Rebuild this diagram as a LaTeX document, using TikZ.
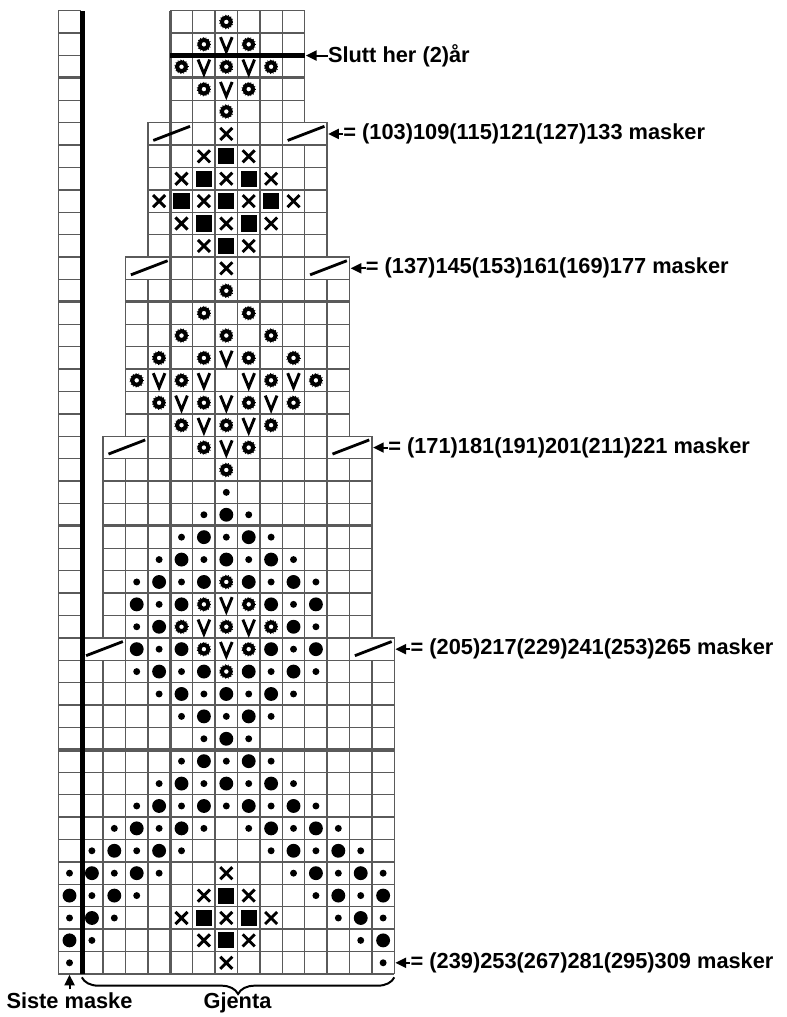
\documentclass[tikz,border=0pt]{standalone}
\usepackage{fontspec}
\setmainfont{Liberation Sans}
\usetikzlibrary{arrows.meta,positioning,decorations.pathreplacing}
\definecolor{rutegraa}{RGB}{90,90,90}

\begin{document}
\begin{tikzpicture}[x=0.672cm, y=0.672cm,
  every node/.style={font=\fontsize{18.6}{21}\selectfont\bfseries, inner sep=0pt},
  rute/.style={rutegraa, line width=1.2pt, step=1},
  tiende/.style={rutegraa, line width=2.6pt},
  pil/.style={line width=1.7pt, -{Triangle[length=0.32cm,width=0.3cm]}},
  smalldot/.pic={\fill (0,0) circle (0.155);},
  bigdot/.pic={\fill (0,0) circle (0.31);},
  ring/.pic={\draw[line width=3.4pt] (0,0) circle (0.2);
    \foreach \a in {0,24,...,336} \draw[line width=0.6pt] (\a:0.27) -- (\a:0.32);},
  vee/.pic={\draw[line width=2.5pt, line join=miter] (-0.26,0.32) -- (0,-0.32) -- (0.26,0.32);},
  cross/.pic={\draw[line width=2.5pt] (-0.27,-0.27) -- (0.27,0.27) (-0.27,0.27) -- (0.27,-0.27);},
  blk/.pic={\fill (-0.36,-0.36) rectangle (0.36,0.36);}]
\useasboundingbox (-2.603,-1.92) rectangle (32.49,43.48);
\fill[white] (-2.603,-1.92) rectangle (32.49,43.48);

% ruter
\draw[rute] (0,0) grid (1,43);
\foreach \lo/\hi/\ra/\rb in {1/14/0/14, 2/13/15/23, 3/12/24/31, 4/11/32/37}{
  \pgfmathtruncatemacro\hx{\hi+1}
  \pgfmathtruncatemacro\rc{\rb+1}
  \pgfmathtruncatemacro\ca{\lo+2}
  \pgfmathtruncatemacro\cb{\hi-1}
  \draw[rute] (\lo,\ra) grid (\hx,\rb);
  \draw[rute] (\lo,\rb) rectangle (\hx,\rc);
  \foreach \c in {\ca,...,\cb} \draw[rute] (\c,\rb) -- (\c,\rc);
}
\draw[rute] (5,38) grid (11,43);

% hver tiende rad og maske
\foreach \y/\lo/\hx in {10/1/15, 20/2/14, 30/3/13, 40/5/11}{
  \draw[tiende] (0,\y) -- (1,\y);
  \draw[tiende] (\lo,\y) -- (\hx,\y);
}
\draw[tiende] (5,0) -- (5,43);
\draw[line width=4.3pt] (1.08,0) -- (1.08,43);
\draw[line width=4.3pt] (5,41) -- (11,41);

% symboler
\foreach \c/\r in {0/1,14/1, 1/2,13/2, 0/3,2/3,12/3,14/3, 1/4,3/4,11/4,13/4,
    0/5,2/5,4/5,10/5,12/5,14/5, 1/6,3/6,5/6,9/6,11/6,13/6,
    2/7,4/7,6/7,8/7,10/7,12/7, 3/8,5/8,7/8,9/8,11/8, 4/9,6/9,8/9,10/9,
    5/10,7/10,9/10, 6/11,8/11, 5/12,7/12,9/12, 4/13,6/13,8/13,10/13,
    3/14,5/14,9/14,11/14, 4/15,10/15, 3/16,11/16, 4/17,10/17,
    3/18,5/18,9/18,11/18, 4/19,6/19,8/19,10/19, 5/20,7/20,9/20, 6/21,8/21, 7/22}
  \pic at (\c+0.5,\r-0.5) {smalldot};
\foreach \c/\r in {0/2,14/2, 1/3,13/3, 0/4,2/4,12/4,14/4, 1/5,3/5,11/5,13/5,
    2/6,4/6,10/6,12/6, 3/7,5/7,9/7,11/7, 4/8,6/8,8/8,10/8, 5/9,7/9,9/9,
    6/10,8/10, 7/11, 6/12,8/12, 5/13,7/13,9/13, 4/14,6/14,8/14,10/14,
    3/15,5/15,9/15,11/15, 4/16,10/16, 3/17,5/17,9/17,11/17,
    4/18,6/18,8/18,10/18, 5/19,7/19,9/19, 6/20,8/20, 7/21}
  \pic at (\c+0.5,\r-0.5) {bigdot};
\foreach \c/\r in {7/14, 6/15,8/15, 5/16,7/16,9/16, 6/17,8/17, 7/18, 7/23,
    6/24,8/24, 5/25,7/25,9/25, 4/26,6/26,8/26,10/26, 3/27,5/27,9/27,11/27,
    4/28,6/28,8/28,10/28, 5/29,7/29,9/29, 6/30,8/30, 7/31,
    7/39, 6/40,8/40, 5/41,7/41,9/41, 6/42,8/42, 7/43}
  \pic at (\c+0.5,\r-0.5) {ring};
\foreach \c/\r in {7/15, 6/16,8/16, 7/17, 7/24, 6/25,8/25, 5/26,7/26,9/26,
    4/27,6/27,8/27,10/27, 7/28, 7/40, 6/41,8/41, 7/42}
  \pic at (\c+0.5,\r-0.5) {vee};
\foreach \c/\r in {7/1, 6/2,8/2, 5/3,7/3,9/3, 6/4,8/4, 7/5, 7/32, 6/33,8/33,
    5/34,7/34,9/34, 4/35,6/35,8/35,10/35, 5/36,7/36,9/36, 6/37,8/37, 7/38}
  \pic at (\c+0.5,\r-0.5) {cross};
\foreach \c/\r in {7/2, 6/3,8/3, 7/4, 7/33, 6/34,8/34, 5/35,7/35,9/35, 6/36,8/36, 7/37}
  \pic at (\c+0.5,\r-0.5) {blk};
% felling
\foreach \c/\r in {1/15,13/15, 2/24,12/24, 3/32,11/32, 4/38,10/38}
  \draw[line width=2.4pt] (\c+0.24,\r-0.79) -- (\c+1.88,\r-0.16);

% merknader
\foreach \r/\e/\txt in {38/12/{(103)109(115)121(127)133},
                        32/13/{(137)145(153)161(169)177},
                        24/14/{(171)181(191)201(211)221},
                        15/15/{(205)217(229)241(253)265},
                         1/15/{(239)253(267)281(295)309}}{
  \coordinate (e\r) at (\e+0.05,\r-0.5);
  \node[right=0.45cm of e\r] (m\r) {= \txt\ masker};
  \draw[pil] (m\r.west) -- (e\r);
}
\coordinate (e41) at (11.05,41);
\node[right=0.66cm of e41] (slutt) {Slutt her (2)år};
\draw[pil] (slutt.west) -- (e41);

\node[anchor=base, inner sep=3pt] (siste) at (0.5,-1.56) {Siste maske};
\coordinate (c0) at (0.5,-0.03);
\draw[pil] (siste.north) -- (c0);
\node[anchor=base] (gjenta) at (8,-1.56) {Gjenta};
\coordinate (bl) at (1.05,-0.15);
\coordinate (br) at (15,-0.15);
\draw[line width=1.7pt, decorate, decoration={brace,mirror,amplitude=0.5cm}] (bl) -- (br);
\end{tikzpicture}
\end{document}
